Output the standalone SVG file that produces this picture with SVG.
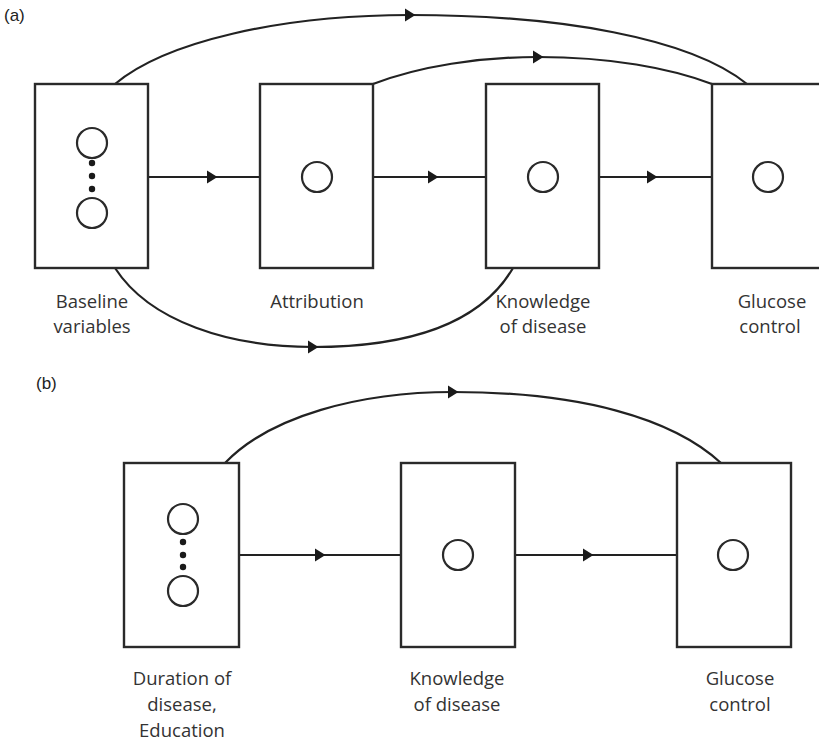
<svg xmlns="http://www.w3.org/2000/svg" width="819" height="745" viewBox="0 0 819 745">
  <style>
    .box { fill: #ffffff; stroke: #2a2a2a; stroke-width: 2.4; }
    .var { fill: none; stroke: #2a2a2a; stroke-width: 2.2; }
    .dot { fill: #1a1a1a; }
    .edge { fill: none; stroke: #222222; stroke-width: 2.2; marker-mid: url(#tri); }
    .lbl { font-family: "Open Sans", "Noto Sans", sans-serif; font-size: 18.5px; fill: #333333; text-anchor: middle; }
    .tag { font-family: "Liberation Sans", Arial, sans-serif; font-size: 17px; fill: #222222; }
  </style>
  <defs>
    <marker id="tri" markerUnits="userSpaceOnUse" markerWidth="14" markerHeight="16" viewBox="-1 -8 14 16" refX="5" refY="0" orient="auto">
      <path d="M0,-6.5 L10.5,0 L0,6.5 Z" fill="#1a1a1a"/>
    </marker>
  </defs>
  <rect width="819" height="745" fill="#ffffff"/>

  <!-- panel labels -->
  <text class="tag" x="4" y="21">(a)</text>
  <text class="tag" x="36" y="389">(b)</text>

  <!-- connectors -->
  <g id="connectors">
    <!-- panel (a) -->
    <path class="edge" d="M148 177 L212 177 L260 177"/>
    <path class="edge" d="M373 177 L433 177 L486 177"/>
    <path class="edge" d="M599 177 L652 177 L712 177"/>
    <path class="edge" d="M115 84 C165 42 280 15 410 15 C560 15 690 38 747 84"/>
    <path class="edge" d="M373 84 C420 66 480 57 538 57 C610 57 670 68 712 84"/>
    <path class="edge" d="M115 268 C150 322 230 347 313 347 C400 347 478 328 513 268"/>
    <!-- panel (b) -->
    <path class="edge" d="M239 555 L320 555 L401 555"/>
    <path class="edge" d="M515 555 L588 555 L677 555"/>
    <path class="edge" d="M225 463 C270 416 360 392 453 392 C580 392 672 418 721 463"/>
  </g>

  <!-- panel (a) nodes -->
  <g id="a-baseline">
    <rect class="box" x="35" y="84" width="113" height="184"/>
    <circle class="var" cx="92" cy="143" r="15"/>
    <circle class="dot" cx="92" cy="163" r="3.2"/>
    <circle class="dot" cx="92" cy="176" r="3.2"/>
    <circle class="dot" cx="92" cy="189" r="3.2"/>
    <circle class="var" cx="92" cy="213" r="15"/>
    <text class="lbl" x="92" y="308">Baseline</text>
    <text class="lbl" x="92" y="333">variables</text>
  </g>
  <g id="a-attribution">
    <rect class="box" x="260" y="84" width="113" height="184"/>
    <circle class="var" cx="317" cy="177" r="15"/>
    <text class="lbl" x="317" y="308">Attribution</text>
  </g>
  <g id="a-knowledge">
    <rect class="box" x="486" y="84" width="113" height="184"/>
    <circle class="var" cx="543" cy="177" r="15"/>
    <text class="lbl" x="543" y="308">Knowledge</text>
    <text class="lbl" x="543" y="333">of disease</text>
  </g>
  <g id="a-glucose">
    <rect class="box" x="712" y="84" width="114" height="184"/>
    <circle class="var" cx="768" cy="177" r="15"/>
    <text class="lbl" x="772" y="308">Glucose</text>
    <text class="lbl" x="770" y="333">control</text>
  </g>

  <!-- panel (b) nodes -->
  <g id="b-duration">
    <rect class="box" x="124" y="463" width="115" height="184"/>
    <circle class="var" cx="183" cy="519" r="15"/>
    <circle class="dot" cx="183" cy="542" r="3.2"/>
    <circle class="dot" cx="183" cy="555" r="3.2"/>
    <circle class="dot" cx="183" cy="567" r="3.2"/>
    <circle class="var" cx="183" cy="591" r="15"/>
    <text class="lbl" x="182" y="685">Duration of</text>
    <text class="lbl" x="182" y="711">disease,</text>
    <text class="lbl" x="182" y="737">Education</text>
  </g>
  <g id="b-knowledge">
    <rect class="box" x="401" y="463" width="114" height="184"/>
    <circle class="var" cx="458" cy="555" r="15"/>
    <text class="lbl" x="457" y="685">Knowledge</text>
    <text class="lbl" x="457" y="711">of disease</text>
  </g>
  <g id="b-glucose">
    <rect class="box" x="677" y="463" width="114" height="184"/>
    <circle class="var" cx="733" cy="555" r="15"/>
    <text class="lbl" x="740" y="685">Glucose</text>
    <text class="lbl" x="740" y="711">control</text>
  </g>
</svg>
